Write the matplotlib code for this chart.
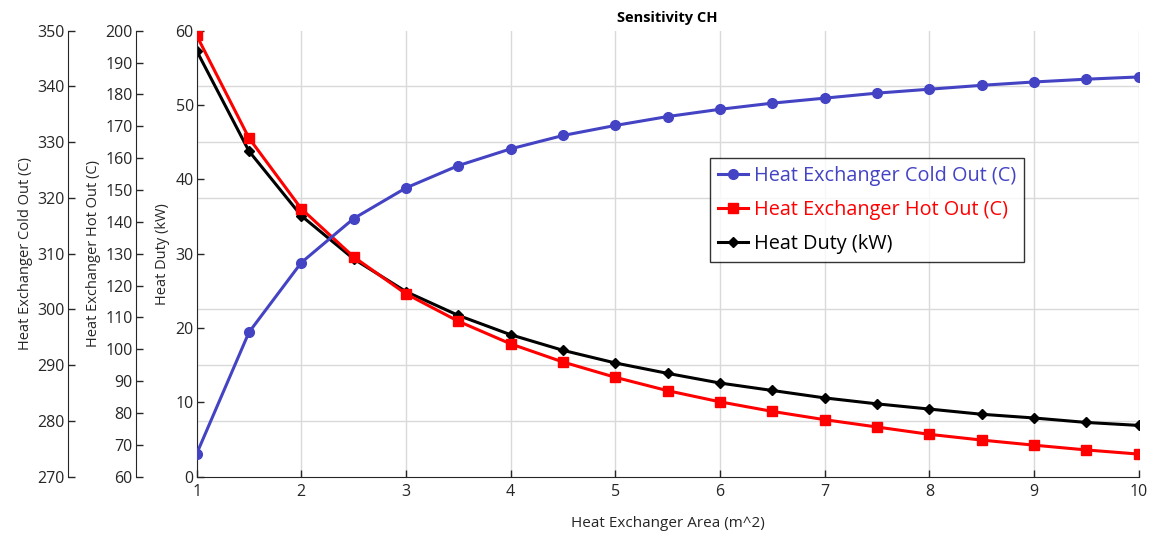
import numpy as np
import matplotlib.pyplot as plt
from matplotlib.ticker import MultipleLocator

plt.rcParams['font.family'] = ['Open Sans', 'DejaVu Sans']

palette = {
    "blue":  "#4343C4",   # cold out
    "red":   "#FF0000",   # hot out
    "black": "#000000",   # heat duty
    "axis":  "#262626",
    "grid":  "#D9D9D9",
}

area = [1.0, 1.5, 2.0, 2.5, 3.0, 3.5, 4.0, 4.5, 5.0, 5.5,
        6.0, 6.5, 7.0, 7.5, 8.0, 8.5, 9.0, 9.5, 10.0]

cold_out = [274.1, 295.9, 308.4, 316.3, 321.8, 325.8, 328.8, 331.2, 333.0, 334.6,
            335.9, 337.0, 337.9, 338.8, 339.5, 340.2, 340.8, 341.3, 341.7]

hot_out = [198.5, 166.3, 144.1, 129.0, 117.4, 108.8, 101.7, 96.0, 91.2, 87.0,
           83.5, 80.5, 77.9, 75.6, 73.3, 71.5, 69.9, 68.4, 67.1]

heat_duty = [57.3, 43.8, 35.1, 29.3, 24.9, 21.7, 19.1, 17.0, 15.3, 13.9,
             12.6, 11.6, 10.6, 9.8, 9.1, 8.4, 7.9, 7.3, 6.9]

fig = plt.figure(figsize=(11.58, 5.44), dpi=100)
ax = fig.add_axes([0.1698, 0.1237, 0.8135, 0.8199])

ax_hot = ax.twinx()
ax_cold = ax.twinx()

# main axis: heat duty
ax.plot(area, heat_duty, color=palette["black"], lw=2.2, marker="D", ms=5,
        label="Heat Duty (kW)")
ax_hot.plot(area, hot_out, color=palette["red"], lw=2.2, marker="s", ms=7,
            label="Heat Exchanger Hot Out (C)")
ax_cold.plot(area, cold_out, color=palette["blue"], lw=2.2, marker="o", ms=7,
             label="Heat Exchanger Cold Out (C)")

ax.set_xlim(1, 10)
ax.set_ylim(0, 60)
ax_hot.set_ylim(60, 200)
ax_cold.set_ylim(270, 350)

ax.xaxis.set_major_locator(MultipleLocator(1))
ax.yaxis.set_major_locator(MultipleLocator(10))
ax_hot.yaxis.set_major_locator(MultipleLocator(10))
ax_cold.yaxis.set_major_locator(MultipleLocator(10))

# horizontal grid follows the cold-out scale (8 divisions)
ax.yaxis.set_minor_locator(MultipleLocator(7.5))
ax.grid(which="major", axis="x", color=palette["grid"], lw=1.0)
ax.grid(which="minor", axis="y", color=palette["grid"], lw=1.0)
ax.set_axisbelow(True)

for a in (ax, ax_hot, ax_cold):
    for s in ("top", "right", "bottom", "left"):
        a.spines[s].set_visible(False)

for a, offset in ((ax_hot, -0.0648), (ax_cold, -0.1370)):
    a.spines["left"].set_visible(True)
    a.spines["left"].set_position(("axes", offset))
    a.spines["left"].set_color(palette["axis"])
    a.yaxis.set_ticks_position("left")
    a.yaxis.set_label_position("left")

for a in (ax, ax_hot, ax_cold):
    a.tick_params(which="both", direction="in", colors=palette["axis"],
                  labelsize=11.5, length=5, width=1.0, pad=2)
    a.tick_params(which="minor", length=0)

ax.spines["left"].set_visible(True)
ax.spines["bottom"].set_visible(True)
ax.spines["left"].set_color(palette["axis"])
ax.spines["bottom"].set_color(palette["axis"])
ax.tick_params(axis="x", pad=5)

ax.set_ylabel("Heat Duty (kW)", fontsize=10.5, color=palette["axis"], labelpad=4)
ax_hot.set_ylabel("Heat Exchanger Hot Out (C)", fontsize=10.5, color=palette["axis"], labelpad=3)
ax_cold.set_ylabel("Heat Exchanger Cold Out (C)", fontsize=10.5, color=palette["axis"], labelpad=3)
ax.set_xlabel("Heat Exchanger Area (m^2)", fontsize=11, color=palette["axis"], labelpad=12)
ax.set_title("Sensitivity CH", fontweight="bold", fontsize=10.5, pad=6)

handles = []
for a in (ax_cold, ax_hot, ax):
    handles += a.get_legend_handles_labels()[0]
leg = ax_cold.legend(handles=handles, loc="upper left", bbox_to_anchor=(0.545, 0.715),
                     fontsize=14.3, frameon=True, fancybox=False, edgecolor="black",
                     handlelength=1.5, handletextpad=0.3, labelspacing=0.72,
                     borderpad=0.4, borderaxespad=0)
leg.get_frame().set_linewidth(1.0)
for txt, h in zip(leg.get_texts(), handles):
    txt.set_color(h.get_color())

fig.savefig("out.png", dpi=100)
